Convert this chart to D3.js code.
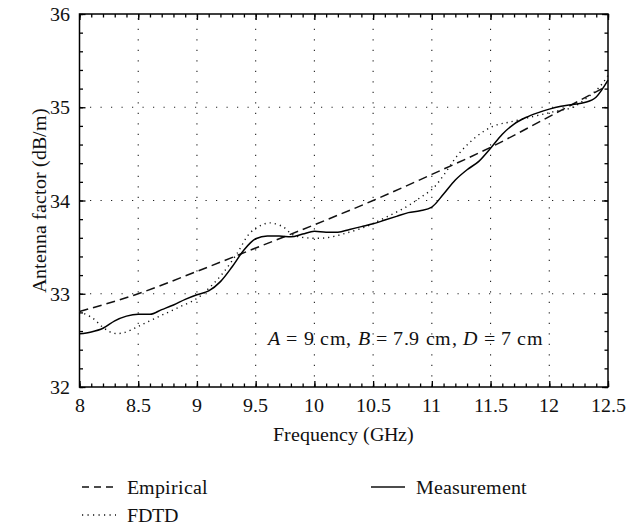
<!DOCTYPE html>
<html>
<head>
<meta charset="utf-8">
<script src="https://cdn.jsdelivr.net/npm/d3@7"></script>
<style>
  @font-face { font-family: "ChartSerif"; font-style: normal; font-weight: 400;
    src: local("Liberation Serif"), local("LiberationSerif"), local("LiberationSerif-Regular"); }
  @font-face { font-family: "ChartSerif"; font-style: italic; font-weight: 400;
    src: local("Liberation Serif Italic"), local("LiberationSerif-Italic"); }
  html, body { margin: 0; padding: 0; background: #fff; }
  .lbl { font-family: "ChartSerif", "Liberation Serif", serif; }
</style>
</head>
<body>
<svg id="chart" width="641" height="525"></svg>
<script>
// ---- data ----
const empiricalFreq = [8.0, 8.5, 9.0, 9.5, 10.0, 10.5, 11.0, 11.5, 12.0, 12.45];
const empiricalAF   = [32.81, 33.0, 33.24, 33.49, 33.74, 34.0, 34.28, 34.57, 34.9, 35.2];

const measFreq = [8.0, 8.1, 8.2, 8.3, 8.4, 8.5, 8.6, 8.7, 8.8, 8.9, 9.0, 9.1, 9.2, 9.3, 9.4, 9.5, 9.6, 9.7, 9.8, 9.9, 10.0, 10.1, 10.2, 10.3, 10.4, 10.5, 10.6, 10.7, 10.8, 10.9, 11.0, 11.1, 11.2, 11.3, 11.4, 11.5, 11.6, 11.7, 11.8, 11.9, 12.0, 12.1, 12.2, 12.3, 12.4, 12.5];
const measAF   = [32.57, 32.59, 32.63, 32.71, 32.76, 32.78, 32.78, 32.83, 32.88, 32.94, 32.99, 33.03, 33.13, 33.29, 33.47, 33.59, 33.62, 33.62, 33.61, 33.64, 33.67, 33.66, 33.66, 33.69, 33.72, 33.75, 33.79, 33.83, 33.87, 33.89, 33.93, 34.07, 34.22, 34.33, 34.42, 34.56, 34.71, 34.82, 34.89, 34.94, 34.98, 35.01, 35.03, 35.05, 35.11, 35.29];

const fdtdFreq = [8.0, 8.11, 8.2, 8.28, 8.37, 8.5, 8.65, 8.82, 9.0, 9.11, 9.22, 9.34, 9.45, 9.54, 9.62, 9.73, 9.82, 9.93, 10.1, 10.27, 10.44, 10.56, 10.78, 10.9, 11.01, 11.1, 11.21, 11.32, 11.44, 11.55, 11.66, 11.86, 12.03, 12.2, 12.32, 12.43, 12.5];
const fdtdAF   = [32.81, 32.74, 32.64, 32.58, 32.58, 32.65, 32.74, 32.84, 32.95, 33.07, 33.22, 33.43, 33.65, 33.73, 33.76, 33.72, 33.63, 33.6, 33.6, 33.65, 33.72, 33.79, 33.93, 34.03, 34.13, 34.27, 34.47, 34.62, 34.74, 34.81, 34.84, 34.9, 34.95, 35.0, 35.1, 35.22, 35.34];

const xTicks = [8, 8.5, 9, 9.5, 10, 10.5, 11, 11.5, 12, 12.5];
const xTickLabels = ["8", "8.5", "9", "9.5", "10", "10.5", "11", "11.5", "12", "12.5"];
const yTicks = [32, 33, 34, 35, 36];
const yTickLabels = ["32", "33", "34", "35", "36"];
const xTitle = "Frequency (GHz)";
const yTitle = "Antenna factor (dB/m)";
const seriesNames = ["Empirical", "FDTD", "Measurement"];

// ---- layout ----
const svg = d3.select("#chart");
const L = 79.5, R = 608, T = 14, B = 387;
const x = d3.scaleLinear().domain([8, 12.5]).range([L, R]);
const y = d3.scaleLinear().domain([32, 36]).range([B, T]);
const FS = 20;

function txt(sel) {
  return sel.attr("class", "lbl").attr("font-size", FS).attr("fill", "#111");
}

// grid
const grid = svg.append("g").attr("stroke", "#222").attr("stroke-width", 1.1)
  .attr("stroke-dasharray", "1.2,9.3");
xTicks.slice(1, -1).forEach(v => {
  grid.append("line").attr("x1", x(v)).attr("x2", x(v)).attr("y1", B).attr("y2", T);
});
yTicks.slice(1, -1).forEach(v => {
  grid.append("line").attr("x1", L).attr("x2", R).attr("y1", y(v)).attr("y2", y(v));
});

const xMinor = d3.range(46).map(i => 8 + i * 0.1);
const yMinor = d3.range(21).map(i => 32 + i * 0.2);

function tickAxis(axisFn, scale, vals, size, translate) {
  const g = svg.append("g").attr("transform", translate)
    .call(axisFn(scale).tickValues(vals).tickSize(size).tickFormat(""));
  g.select(".domain").remove();
  g.selectAll(".tick text").remove();
  g.selectAll(".tick line").attr("stroke", "#000").attr("stroke-width", 1.3);
  return g;
}
tickAxis(d3.axisBottom, x, xMinor, -3.5, `translate(0,${B})`);
tickAxis(d3.axisBottom, x, xTicks, -6, `translate(0,${B})`);
tickAxis(d3.axisTop, x, xMinor, -3.5, `translate(0,${T})`);
tickAxis(d3.axisTop, x, xTicks, -6, `translate(0,${T})`);
tickAxis(d3.axisLeft, y, yMinor, -3.5, `translate(${L},0)`);
tickAxis(d3.axisLeft, y, yTicks, -6, `translate(${L},0)`);
tickAxis(d3.axisRight, y, yMinor, -3.5, `translate(${R},0)`);
tickAxis(d3.axisRight, y, yTicks, -6, `translate(${R},0)`);

// frame
svg.append("rect").attr("x", L).attr("y", T).attr("width", R - L).attr("height", B - T)
  .attr("fill", "none").attr("stroke", "#000").attr("stroke-width", 1.5);

// tick labels
svg.append("g").selectAll("text").data(xTicks).join("text")
  .call(txt)
  .attr("x", d => x(d)).attr("y", 412).attr("text-anchor", "middle")
  .text((d, i) => xTickLabels[i]);
svg.append("g").selectAll("text").data(yTicks).join("text")
  .call(txt)
  .attr("x", 70).attr("y", d => y(d) + 7).attr("text-anchor", "end")
  .text((d, i) => yTickLabels[i]);

// axis titles
svg.append("text").call(txt).attr("x", (L + R) / 2).attr("y", 441).attr("text-anchor", "middle")
  .text(xTitle);
svg.append("text").call(txt).attr("transform", `translate(46,${(T + B) / 2}) rotate(-90)`)
  .attr("text-anchor", "middle").text(yTitle);

// lines
const lineGen = (curve) => d3.line().x(d => x(d[0])).y(d => y(d[1])).curve(curve);
const zip = (a, b) => a.map((v, i) => [v, b[i]]);

svg.append("path").datum(zip(empiricalFreq, empiricalAF))
  .attr("d", lineGen(d3.curveMonotoneX)).attr("fill", "none")
  .attr("stroke", "#111").attr("stroke-width", 1.5).attr("stroke-dasharray", "9,5");
svg.append("path").datum(zip(fdtdFreq, fdtdAF))
  .attr("d", lineGen(d3.curveCatmullRom.alpha(0.5))).attr("fill", "none")
  .attr("stroke", "#111").attr("stroke-width", 1.4).attr("stroke-dasharray", "1.2,4");
svg.append("path").datum(zip(measFreq, measAF))
  .attr("d", lineGen(d3.curveMonotoneX)).attr("fill", "none")
  .attr("stroke", "#000").attr("stroke-width", 1.5);

// annotation
const ann = svg.append("text").call(txt).attr("x", 268).attr("y", 345)
  .attr("textLength", 275).attr("lengthAdjust", "spacing");
[["A", true], [" = 9 cm, ", false], ["B", true], [" = 7.9 cm, ", false], ["D", true], [" = 7 cm", false]]
  .forEach(([t, it]) => ann.append("tspan").attr("font-style", it ? "italic" : "normal").text(t));

// legend
const leg = svg.append("g");
const legItems = [
  { name: seriesNames[0], x0: 82, y0: 487, dash: "7,5", w: 1.4 },
  { name: seriesNames[1], x0: 82, y0: 515, dash: "1.2,4.3", w: 1.4 },
  { name: seriesNames[2], x0: 371, y0: 487, dash: null, w: 1.5 }
];
legItems.forEach(it => {
  const ln = leg.append("line").attr("x1", it.x0).attr("x2", it.x0 + 34)
    .attr("y1", it.y0).attr("y2", it.y0).attr("stroke", "#111").attr("stroke-width", it.w);
  if (it.dash) ln.attr("stroke-dasharray", it.dash);
  leg.append("text").call(txt).attr("x", it.x0 + 45).attr("y", it.y0 + 7).text(it.name);
});
</script>
</body>
</html>
